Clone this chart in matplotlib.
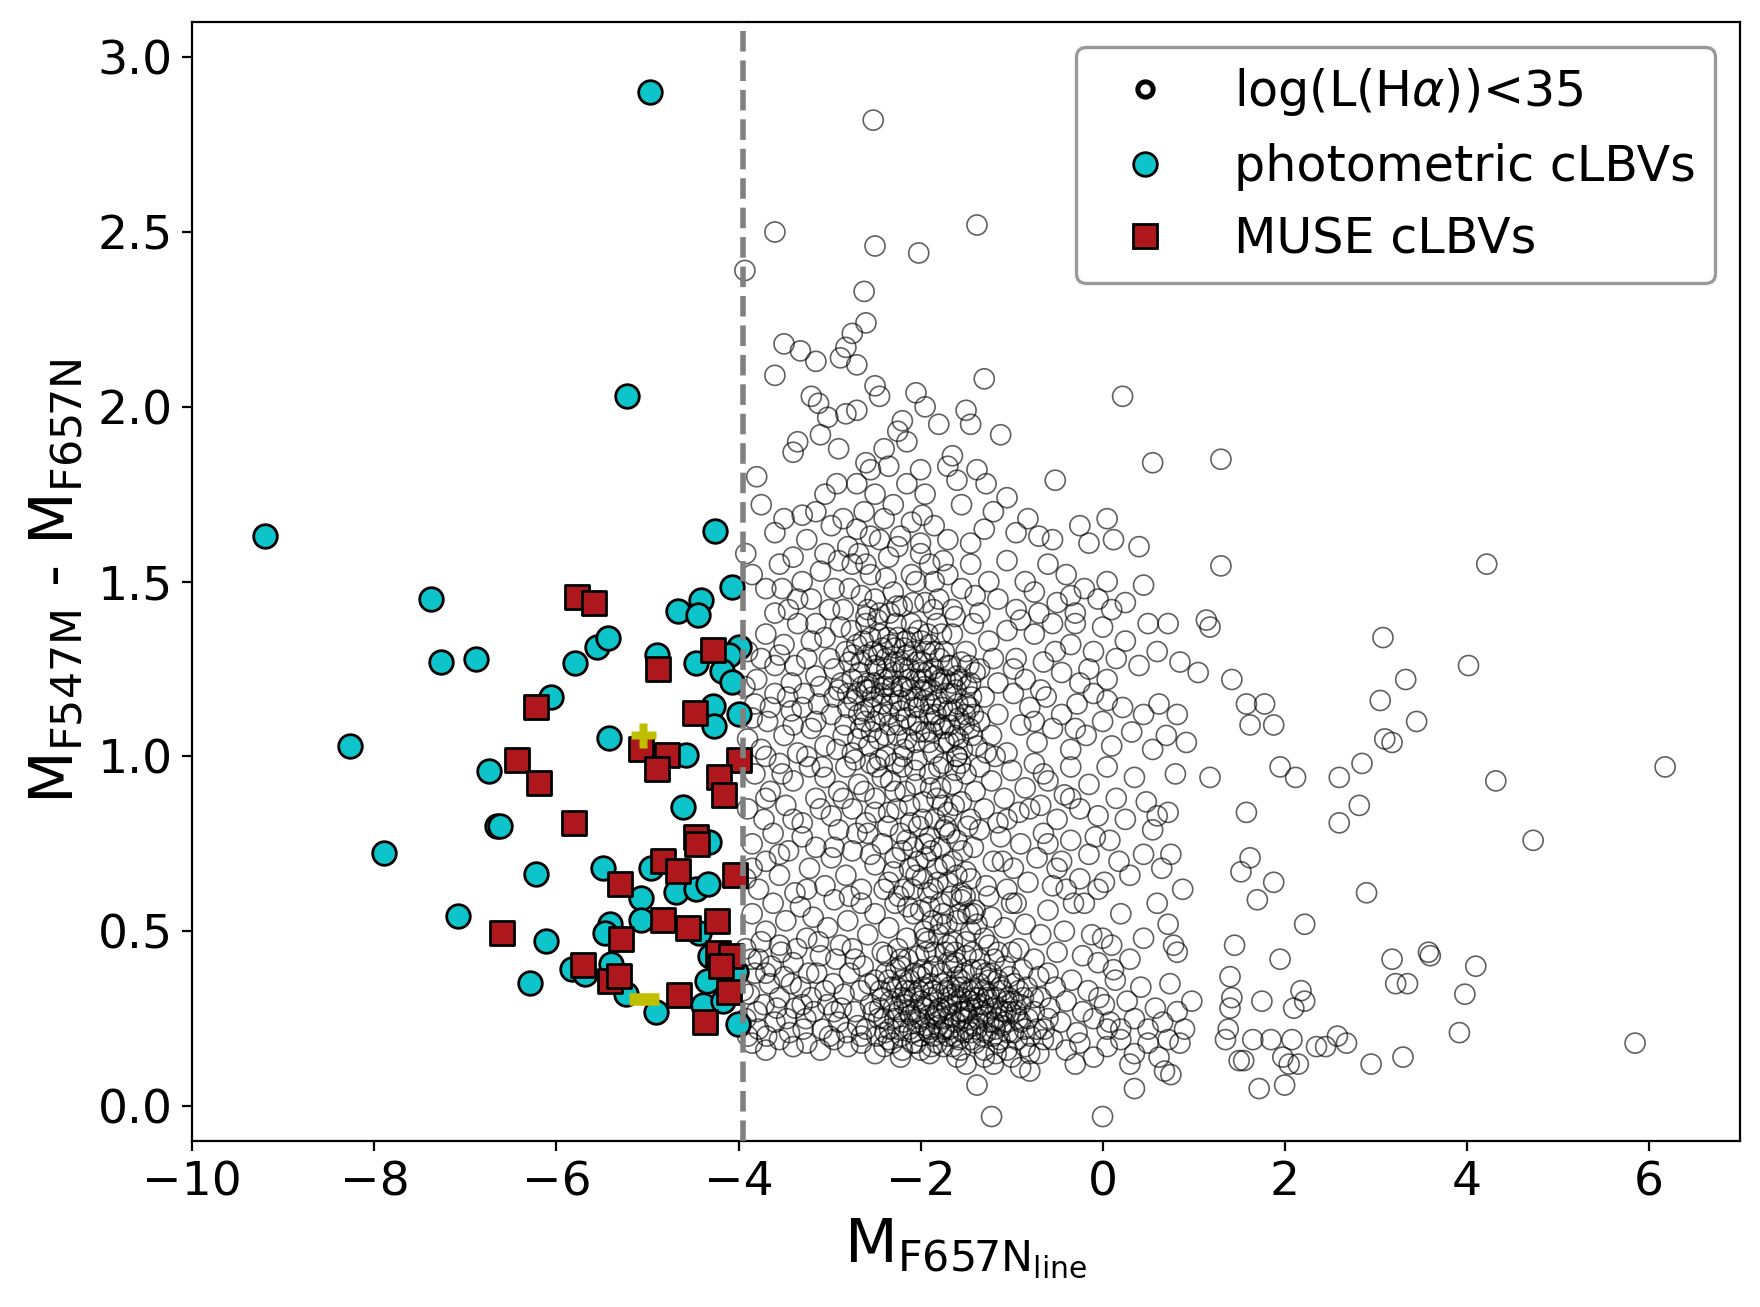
import matplotlib
matplotlib.use("Agg")
import matplotlib.pyplot as plt
from matplotlib.lines import Line2D
import numpy as np

# ---------------- data: faint sources, log(L(Halpha))<35 ----------------
bg_top = [(-2.52,2.82),(-3.6,2.5),(-2.5,2.46),(-2.02,2.44),(-1.38,2.52),(-3.93,2.39),(-2.62,2.33),
          (-2.6,2.24),(-2.75,2.21),(-2.82,2.17),(-3.5,2.18),(-3.32,2.16),(-2.88,2.14),(-2.7,2.12),(-3.15,2.13)]
bg_18 = [(-3.6,2.09),(-1.3,2.08),(-2.5,2.06),(-2.45,2.03),(-2.05,2.04),(-1.95,2.0),(-2.7,1.99),(-3.2,2.03),
         (-3.12,2.01),(-3.02,1.97),(-2.82,1.98),(-1.5,1.99),(-1.45,1.95),(-1.12,1.92),(0.22,2.03),(-1.8,1.95),
         (-2.25,1.93),(-2.15,1.9),(-2.4,1.88),(-3.4,1.87),(-3.35,1.9),(-3.1,1.92),(-2.6,1.84),(-2.55,1.82),
         (-2.35,1.83),(-2.0,1.82),(-1.7,1.83),(-1.65,1.86),(-1.38,1.82),(-1.28,1.78),(-0.52,1.79),(0.55,1.84),
         (-2.9,1.88),(-2.2,1.96),(-1.98,1.69)]
bg_16 = [(-3.8,1.80),(-3.05,1.75),(-2.92,1.78),(-2.7,1.78),(-2.5,1.75),(-2.3,1.72),(-2.15,1.78),(-1.95,1.75),
         (-1.55,1.72),(-1.2,1.70),(-0.7,1.63),(-0.55,1.62),(-0.25,1.66),(0.05,1.68),(-3.75,1.72),(-3.5,1.68),
         (-3.3,1.69),(-3.15,1.70),(-2.85,1.68),(-2.7,1.65),(-2.4,1.68),(-2.1,1.67),(-1.85,1.66),(-1.7,1.62),
         (-1.45,1.61),(-1.3,1.65),(-0.95,1.64),(-0.15,1.61),(0.12,1.62),(-2.55,1.63),(-2.0,1.61),(-3.6,1.64),
         (-1.05,1.74),(-1.6,1.79),(-2.22,1.63),(-0.82,1.68),(-3.92,1.58),(0.4,1.6)]
bg_14 = [(-3.85,1.52),(-3.7,1.48),(-3.55,1.55),(-3.45,1.42),(-3.3,1.5),(-3.2,1.45),(-3.05,1.58),(-2.95,1.48),
         (-2.85,1.42),(-2.75,1.55),(-2.65,1.46),(-2.55,1.52),(-2.45,1.41),(-2.35,1.57),(-2.3,1.47),(-2.2,1.43),
         (-2.1,1.52),(-2.0,1.58),(-1.95,1.44),(-1.85,1.5),(-1.75,1.56),(-1.65,1.42),(-1.55,1.48),(-1.45,1.55),
         (-1.35,1.41),(-1.25,1.5),(-1.15,1.45),(-1.05,1.56),(-0.95,1.42),(-0.85,1.5),(-0.75,1.47),(-0.6,1.55),
         (-0.5,1.44),(-0.4,1.52),(-0.3,1.41),(-0.2,1.48),(-0.05,1.45),(0.1,1.42),(0.25,1.44),(0.45,1.49),
         (-3.6,1.41),(-2.9,1.56),(-2.6,1.40),(-1.9,1.55),(-1.4,1.46),(-0.7,1.41),(-0.35,1.46),(0.05,1.50),
         (-3.4,1.57),(-3.25,1.62),(-3.1,1.53),(-2.98,1.66),(-2.8,1.6),(-2.62,1.7),(-2.45,1.62),(-2.38,1.51),
         (-2.6,1.55),(-2.78,1.48),(-3.0,1.42),(-3.15,1.38),(-2.25,1.6),(-2.05,1.5),(-1.8,1.45),(-1.7,1.52),
         (-2.5,1.45),(-2.68,1.58),(-3.35,1.45),(-3.52,1.48)]
bg_12 = [(-3.9,1.3),(-3.8,1.22),(-3.7,1.35),(-3.6,1.26),(-3.5,1.32),(-3.42,1.21),(-3.35,1.38),(-3.25,1.28),
         (-3.15,1.23),(-3.05,1.34),(-2.95,1.25),(-2.88,1.37),(-2.82,1.3),
         (-2.75,1.22),(-2.7,1.32),(-2.65,1.27),(-2.6,1.38),(-2.58,1.21),(-2.52,1.3),(-2.48,1.25),(-2.45,1.35),
         (-2.4,1.2),(-2.38,1.28),(-2.33,1.32),(-2.3,1.24),(-2.27,1.38),(-2.22,1.27),(-2.2,1.2),(-2.16,1.33),
         (-2.12,1.25),(-2.08,1.3),(-2.05,1.22),(-2.02,1.36),(-1.98,1.27),(-1.95,1.2),(-1.9,1.32),(-1.86,1.25),
         (-1.82,1.38),(-1.78,1.22),(-1.74,1.3),(-1.7,1.26),(-2.55,1.34),(-2.35,1.22),(-2.15,1.29),(-1.92,1.35),
         (-2.42,1.31),(-2.25,1.34),(-2.0,1.24),
         (-1.65,1.35),(-1.6,1.23),(-1.5,1.3),(-1.42,1.38),(-1.35,1.25),(-1.25,1.33),(-1.15,1.21),(-1.05,1.36),
         (-0.95,1.28),(-0.85,1.22),(-0.75,1.35),(-0.65,1.27),(-0.55,1.38),(-0.45,1.24),(-0.35,1.32),(-0.25,1.21),
         (-0.1,1.3),(0.0,1.37),(0.15,1.28),(0.25,1.33),(0.4,1.26),(0.5,1.38),(0.6,1.3),(0.72,1.38),(0.85,1.27),
         (-1.45,1.21),(-0.9,1.39),(0.05,1.22),(-0.3,1.38)]
bg_clump_hi = [(-2.87,1.21),(-2.83,1.09),(-2.78,1.27),(-2.73,1.16),(-2.69,1.05),(-2.67,1.24),(-2.63,1.33),
               (-2.61,1.1),(-2.56,1.19),(-2.54,1.07),(-2.5,1.26),(-2.47,1.39),(-2.44,1.12),(-2.41,1.22),
               (-2.39,1.06),(-2.36,1.34),(-2.32,1.15),(-2.29,1.27),(-2.26,1.43),(-2.24,1.09),(-2.21,1.2),
               (-2.18,1.31),(-2.15,1.05),(-2.13,1.22),(-2.1,1.38),(-2.07,1.14),(-2.04,1.27),(-2.01,1.07),
               (-1.99,1.33),(-1.96,1.16),(-1.93,1.24),(-1.91,1.04),(-1.88,1.19),(-1.85,1.3),(-1.83,1.12),
               (-1.8,1.21),(-1.77,1.35),(-1.75,1.08),(-1.72,1.18),(-1.69,1.04),(-1.67,1.26),(-1.64,1.13),
               (-1.61,1.19),(-1.58,1.05),(-1.55,1.27),(-1.52,1.09),(-1.49,1.2),(-1.46,1.14),(-1.43,1.06),
               (-1.4,1.24),(-2.76,1.36),(-2.58,1.42),(-2.34,1.41),(-2.08,1.44),(-1.86,1.42),(-1.62,1.4),
               (-2.72,0.99),(-2.48,0.97),(-2.28,0.98),(-2.04,0.99),(-1.8,0.97),(-1.56,0.98),(-2.95,1.17),
               (-3.0,1.28),(-3.1,1.2),(-3.2,1.33),(-3.3,1.14),(-3.38,1.26),(-3.46,1.17),(-3.55,1.29),
               (-3.65,1.14),(-3.75,1.28),(-3.85,1.11),(-3.93,1.2),
               (-2.8,1.18),(-2.74,1.29),(-2.68,1.12),(-2.64,1.2),(-2.59,1.29),(-2.55,1.14),(-2.51,1.21),
               (-2.46,1.29),(-2.43,1.18),(-2.37,1.25),(-2.34,1.09),(-2.31,1.2),(-2.28,1.31),(-2.23,1.16),
               (-2.19,1.25),(-2.16,1.11),(-2.11,1.19),(-2.09,1.34),(-2.05,1.17),(-2.03,1.1),(-1.97,1.22),
               (-1.94,1.3),(-1.89,1.15),(-1.87,1.07),(-1.84,1.23),(-1.79,1.28),(-1.76,1.14),(-1.73,1.22),
               (-1.68,1.09),(-1.65,1.21),(-1.59,1.15),(-1.56,1.22),(-1.51,1.12),(-1.47,1.26),(-1.44,1.17),
               (-3.15,1.1),(-3.25,1.0),(-3.4,1.09),(-3.52,0.95),(-3.7,1.0),(-3.08,0.97),(-2.92,1.02)]
bg_10 = [(-3.9,1.05),(-3.82,1.15),(-3.75,1.02),(-3.68,1.1),(-3.6,1.18),(-3.5,1.06),(-3.42,1.13),(-3.35,1.01),
         (-3.28,1.18),(-3.2,1.08),(-3.12,1.15),(-3.05,1.03),(-2.98,1.12),(-2.9,1.19),(-2.85,1.06),
         (-2.8,1.14),(-2.75,1.01),(-2.7,1.18),(-2.66,1.08),(-2.62,1.13),(-2.57,1.03),(-2.53,1.17),(-2.5,1.1),
         (-2.46,1.05),(-2.42,1.15),(-2.38,1.0),(-2.35,1.12),(-2.3,1.18),(-2.26,1.06),(-2.22,1.13),(-2.18,1.02),
         (-2.14,1.16),(-2.1,1.09),(-2.06,1.04),(-2.02,1.14),(-1.98,1.19),(-1.94,1.07),(-1.9,1.12),(-1.86,1.01),
         (-1.82,1.16),(-1.78,1.09),(-1.74,1.04),(-1.7,1.13),(-1.66,1.18),(-1.62,1.06),(-1.58,1.11),(-1.54,1.02),
         (-1.5,1.15),(-1.46,1.08),(-1.42,1.12),(-1.38,1.03),(-2.6,1.19),(-2.2,1.0),(-1.85,1.1),(-1.6,1.0),
         (-1.3,1.17),(-1.22,1.06),(-1.15,1.12),(-1.05,1.01),(-0.98,1.18),(-0.9,1.09),(-0.8,1.14),(-0.72,1.04),
         (-0.62,1.17),(-0.55,1.08),(-0.45,1.12),(-0.35,1.02),(-0.28,1.15),(-0.18,1.06),(-0.1,1.18),(0.0,1.1),
         (0.1,1.03),(0.22,1.14),(0.32,1.07),(0.45,1.12),(0.55,1.02),(0.62,1.15),(0.7,1.06),(0.82,1.12),
         (0.92,1.04),(-1.28,1.01),(-0.68,1.19),(0.05,1.16)]
bg_08 = [(-3.9,0.85),(-3.82,0.95),(-3.72,0.82),(-3.65,0.9),(-3.55,0.98),(-3.48,0.86),(-3.4,0.93),(-3.3,0.81),
         (-3.22,0.97),(-3.15,0.88),(-3.05,0.94),(-2.98,0.83),(-2.9,0.9),(-2.82,0.97),(-2.75,0.85),(-2.68,0.92),
         (-2.6,0.81),(-2.55,0.98),(-2.5,0.88),(-2.42,0.94),(-2.35,0.84),(-2.28,0.9),(-2.2,0.97),(-2.12,0.86),
         (-2.05,0.92),(-1.98,0.82),(-1.9,0.95),(-1.82,0.88),(-1.75,0.98),(-1.7,0.84),(-1.65,0.92),(-1.6,1.0),
         (-1.55,0.87),(-1.5,0.95),(-1.45,0.82),(-1.4,0.9),(-1.35,0.97),(-1.3,0.85),(-1.22,0.93),(-1.15,0.81),
         (-1.08,0.88),(-1.0,0.96),(-0.92,0.84),(-0.85,0.91),(-0.75,0.98),(-0.68,0.86),(-0.6,0.93),(-0.5,0.82),
         (-0.42,0.89),(-0.35,0.97),(-0.25,0.85),(-0.15,0.92),(-0.05,0.83),(0.05,0.97),(0.15,0.88),(0.25,0.82),
         (0.35,0.94),(0.48,0.87),(0.6,0.83),(0.72,0.84),(0.8,0.95),(-1.78,0.91),(-1.62,0.96),(-1.72,0.8),
         (-2.45,0.99)]
bg_06 = [(-3.92,0.65),(-3.85,0.75),(-3.78,0.62),(-3.7,0.7),(-3.62,0.78),(-3.55,0.66),(-3.45,0.73),(-3.38,0.61),
         (-3.3,0.77),(-3.22,0.68),(-3.15,0.74),(-3.05,0.63),(-2.98,0.71),(-2.9,0.79),(-2.82,0.66),(-2.75,0.73),
         (-2.65,0.62),(-2.58,0.78),(-2.5,0.69),(-2.42,0.75),(-2.35,0.64),(-2.28,0.71),(-2.22,0.78),(-2.18,0.62),
         (-2.12,0.68),(-2.08,0.74),(-2.02,0.8),(-1.98,0.65),(-1.94,0.71),(-1.9,0.77),(-1.86,0.62),(-1.82,0.68),
         (-1.78,0.74),(-1.74,0.79),(-1.7,0.64),(-1.65,0.7),(-1.6,0.76),(-1.55,0.61),(-1.5,0.67),(-1.42,0.74),
         (-1.35,0.79),(-1.28,0.63),(-1.2,0.7),(-1.12,0.77),(-1.05,0.62),(-0.98,0.68),(-0.9,0.75),(-0.82,0.64),
         (-0.72,0.71),(-0.65,0.78),(-0.55,0.63),(-0.45,0.7),(-0.35,0.76),(-0.25,0.65),(-0.15,0.72),(-0.05,0.62),
         (0.02,0.64),(0.08,0.76),(0.18,0.7),(0.3,0.66),(0.45,0.72),(0.55,0.79),(0.65,0.68),(0.75,0.72),
         (0.88,0.62),(-2.05,0.66),(-1.88,0.73),(-2.15,0.76)]
bg_diag = [(-2.4,0.62),(-2.36,0.8),(-2.33,0.93),(-2.3,0.67),(-2.26,0.85),(-2.24,0.6),(-2.2,0.73),(-2.17,0.9),
           (-2.14,0.57),(-2.11,0.81),(-2.09,0.62),(-2.06,0.96),(-2.03,0.7),(-2.0,0.56),(-1.97,0.87),
           (-1.95,0.75),(-1.92,0.61),(-1.89,0.91),(-1.87,0.53),(-1.84,0.82),(-1.81,0.64),(-1.78,0.58),
           (-1.76,0.86),(-1.73,0.69),(-1.71,0.52),(-1.68,0.78),(-1.66,0.6),(-1.63,0.86),(-1.6,0.66),
           (-1.57,0.55),(-1.54,0.73),(-1.51,0.6),(-1.48,0.8),(-1.45,0.65),(-1.42,0.55),(-2.5,0.84),
           (-2.55,0.72),(-2.62,0.9),(-2.7,0.78),(-2.78,0.6),(-2.85,0.88),(-2.95,0.74),(-3.1,0.85),
           (-3.25,0.62),(-3.4,0.82),(-3.55,0.72),(-3.7,0.88),(-3.85,0.68),
           (-1.25,0.6),(-1.1,0.7),(-0.95,0.58),(-0.8,0.85),(-0.65,0.95),(-0.5,0.68),(-0.35,0.88),(-0.2,0.58),
           (-0.08,0.77),(-1.18,1.0),(-0.98,1.25),(-0.75,1.1),(-0.52,1.3),(-0.3,1.08),(-0.15,1.25),(-1.05,0.82),
           (-0.6,0.75),(-0.4,0.62),(-1.35,1.1),(-1.2,1.28)]
bg_04 = [(-3.92,0.45),(-3.85,0.55),(-3.78,0.42),(-3.7,0.5),(-3.62,0.58),(-3.55,0.46),(-3.48,0.53),(-3.4,0.41),
         (-3.32,0.57),(-3.25,0.48),(-3.18,0.54),(-3.1,0.43),(-3.02,0.51),(-2.95,0.59),(-2.88,0.46),(-2.8,0.53),
         (-2.72,0.42),(-2.65,0.58),(-2.58,0.49),(-2.5,0.55),(-2.42,0.44),(-2.35,0.51),(-2.28,0.58),(-2.22,0.42),
         (-2.15,0.48),(-2.08,0.55),(-2.02,0.43),(-1.96,0.5),(-1.9,0.57),(-1.85,0.44),(-1.8,0.49),(-1.75,0.55),
         (-1.7,0.41),(-1.65,0.47),(-1.6,0.53),(-1.55,0.59),(-1.5,0.43),(-1.45,0.5),(-1.4,0.56),(-1.35,0.42),
         (-1.3,0.48),(-1.22,0.54),(-1.15,0.44),(-1.08,0.51),(-1.0,0.58),(-0.92,0.45),(-0.85,0.52),(-0.75,0.42),
         (-0.68,0.49),(-0.6,0.56),(-0.5,0.44),(-0.42,0.5),(-0.32,0.58),(-0.22,0.43),(-0.12,0.49),(-0.05,0.41),
         (0.0,0.48),(0.1,0.46),(0.2,0.55),(0.3,0.42),(0.45,0.48),(0.6,0.58),(0.72,0.52),(0.82,0.44),(0.78,0.46),
         (-1.62,0.44),(-1.78,0.52),(-1.48,0.55),(-1.92,0.47),(-1.38,0.52)]
bg_02 = [(-3.92,0.25),(-3.88,0.32),(-3.82,0.38),(-3.78,0.22),(-3.72,0.29),(-3.66,0.35),(-3.6,0.24),(-3.55,0.31),
         (-3.5,0.37),(-3.44,0.21),(-3.38,0.28),(-3.32,0.34),(-3.26,0.25),(-3.2,0.31),(-3.14,0.38),(-3.08,0.22),
         (-3.02,0.29),(-2.96,0.35),(-2.9,0.24),(-2.84,0.32),(-2.78,0.38),(-2.72,0.27),(-2.66,0.33),(-2.6,0.22),
         (-2.55,0.29),
         (-2.5,0.36),(-2.46,0.25),(-2.42,0.31),(-2.38,0.38),(-2.34,0.22),(-2.3,0.28),(-2.26,0.34),(-2.22,0.4),
         (-2.19,0.24),(-2.15,0.3),(-2.12,0.36),(-2.08,0.21),(-2.05,0.27),(-2.02,0.33),(-1.98,0.39),(-1.95,0.23),
         (-1.92,0.29),(-1.89,0.35),(-1.86,0.2),(-1.83,0.26),(-1.8,0.32),(-1.77,0.38),(-1.74,0.22),(-1.71,0.28),
         (-1.68,0.34),(-1.65,0.4),(-1.62,0.24),(-1.59,0.3),(-1.56,0.36),(-1.53,0.21),(-1.5,0.27),(-1.47,0.33),
         (-1.44,0.39),(-1.41,0.23),(-1.38,0.29),(-1.35,0.35),(-1.32,0.2),(-1.28,0.26),(-1.25,0.32),(-1.22,0.38),
         (-1.18,0.22),(-1.15,0.28),(-1.12,0.34),(-1.08,0.24),(-1.05,0.3),(-1.02,0.37),(-0.98,0.21),(-0.95,0.27),
         (-0.92,0.33),(-2.28,0.25),(-2.1,0.33),(-1.9,0.26),(-1.7,0.31),(-1.55,0.25),(-1.4,0.31),(-1.25,0.24),
         (-2.0,0.3),(-1.8,0.23),(-1.6,0.37),(-1.45,0.28),(-1.3,0.33),(-2.2,0.36),(-1.1,0.27),
         (-0.88,0.39),(-0.82,0.25),(-0.76,0.31),(-0.7,0.37),(-0.64,0.22),(-0.58,0.28),(-0.52,0.34),(-0.46,0.24),
         (-0.4,0.3),(-0.34,0.36),(-0.28,0.21),(-0.22,0.27),(-0.16,0.33),(-0.1,0.25),(-0.04,0.31),(0.02,0.29),
         (0.08,0.24),(0.14,0.36),(0.2,0.22),(0.27,0.3),(0.35,0.25),(0.42,0.34),(0.5,0.22),(0.58,0.28),
         (0.66,0.24),(0.74,0.35),(0.82,0.27),(0.9,0.22),(0.98,0.3),(0.12,0.39),(0.05,0.22),(-0.6,0.38)]
bg_clump_lo = [(-2.48,0.2),(-2.44,0.33),(-2.4,0.25),(-2.37,0.43),(-2.33,0.3),(-2.31,0.18),(-2.27,0.39),
               (-2.24,0.27),(-2.21,0.2),(-2.17,0.33),(-2.14,0.42),(-2.11,0.26),(-2.09,0.18),(-2.06,0.38),
               (-2.03,0.24),(-2.0,0.2),(-1.97,0.34),(-1.94,0.44),(-1.91,0.21),(-1.88,0.31),(-1.85,0.4),
               (-1.82,0.18),(-1.79,0.28),(-1.76,0.35),(-1.73,0.44),(-1.7,0.2),(-1.67,0.26),(-1.64,0.32),
               (-1.61,0.41),(-1.58,0.19),(-1.55,0.31),(-1.52,0.38),(-1.49,0.22),(-1.46,0.3),(-1.43,0.44),
               (-1.4,0.18),(-1.37,0.25),(-1.34,0.39),(-1.31,0.29),(-1.28,0.21),(-1.25,0.36),(-1.22,0.28),
               (-1.19,0.42),(-1.16,0.25),(-1.13,0.19),(-1.1,0.33),(-1.07,0.4),(-1.04,0.21),(-1.01,0.27),
               (-0.97,0.35),(-0.94,0.19),(-0.9,0.29),(-0.86,0.22),(-0.83,0.34),(-0.79,0.2),(-0.75,0.27),
               (-0.72,0.22),(-0.68,0.31),(-0.65,0.19),(-0.6,0.25),(-2.35,0.36),(-2.18,0.29),(-2.0,0.37),
               (-1.84,0.25),(-1.68,0.22),(-1.52,0.27),(-1.36,0.31),(-1.2,0.24),(-1.03,0.31),(-1.92,0.38),
               (-1.6,0.34),(-1.28,0.38),(-2.12,0.22),(-1.75,0.25),(-1.45,0.21),(-1.15,0.36),(-0.9,0.24),
               (-2.4,0.17),(-2.0,0.16),(-1.65,0.17),(-1.3,0.14),(-1.05,0.16),(-0.8,0.15),(-2.25,0.45),
               (-1.95,0.48),(-1.7,0.46),(-1.5,0.47),(-1.25,0.46),(-1.0,0.44),
               (-3.95,0.33),(-3.9,0.2),(-3.86,0.42),(-3.8,0.27),(-3.75,0.47),(-3.69,0.2),(-3.64,0.4),
               (-3.58,0.28),(-3.53,0.44),(-3.47,0.25),(-3.42,0.35),(-3.36,0.45),(-3.29,0.22),(-3.23,0.38),
               (-3.17,0.27),(-3.12,0.47),(-3.05,0.33),(-3.0,0.2),(-2.93,0.42),(-2.87,0.28),(-2.81,0.21),
               (-2.75,0.45),(-2.69,0.23),(-2.63,0.4),(-2.57,0.35),(-2.52,0.27),(-3.7,0.38),(-3.3,0.29),
               (-2.95,0.27),(-2.65,0.2),
               (-2.45,0.28),(-2.39,0.21),(-2.32,0.34),(-2.25,0.22),(-2.2,0.31),(-2.13,0.27),(-2.07,0.31),
               (-2.01,0.25),(-1.96,0.28),(-1.9,0.22),(-1.86,0.33),(-1.81,0.27),(-1.77,0.21),(-1.72,0.33),
               (-1.66,0.29),(-1.63,0.2),(-1.57,0.27),(-1.54,0.34),(-1.48,0.25),(-1.42,0.33),(-1.38,0.22),
               (-1.33,0.27),(-1.27,0.31),(-1.21,0.2),(-1.17,0.31),(-1.11,0.23),(-1.06,0.27),(-0.99,0.3),
               (-0.93,0.25),(-0.87,0.31),(-1.88,0.17),(-1.56,0.16),(-1.17,0.15),(-2.22,0.14)]
bg_01 = [(-3.85,0.18),(-3.7,0.16),(-3.55,0.19),(-3.4,0.17),(-3.25,0.18),(-3.1,0.16),(-2.95,0.19),(-2.8,0.17),
         (-2.65,0.18),(-2.5,0.15),(-2.35,0.19),(-2.2,0.16),(-2.05,0.18),(-1.9,0.15),(-1.75,0.17),(-1.6,0.14),
         (-1.45,0.19),(-1.3,0.16),(-1.15,0.18),(-1.0,0.14),(-0.85,0.17),(-0.7,0.15),(-0.55,0.19),(-0.4,0.16),
         (-0.25,0.18),(-0.1,0.14),(0.05,0.17),(0.2,0.19),(0.35,0.15),(0.5,0.18),(0.62,0.14),(0.72,0.19),
         (0.85,0.18),(-1.2,0.12),(-0.9,0.11),(-0.8,0.1),(0.68,0.1),(0.75,0.09),(-1.38,0.06),(-1.22,-0.03),
         (0.0,-0.03),(0.35,0.05),(-1.5,0.12),(-0.3,0.12),(0.3,0.12)]
bg_right = [(1.3,1.85),(1.3,1.545),(4.22,1.55),(6.18,0.97),(4.73,0.76),(5.85,0.18),(4.32,0.93),(4.02,1.26),
            (3.45,1.10),(3.33,1.22),(3.08,1.34),(3.05,1.16),(3.1,1.05),(3.18,1.04),(2.85,0.98),(2.6,0.94),
            (2.82,0.86),(2.6,0.81),(2.12,0.94),(1.95,0.97),(1.78,1.15),(1.58,1.15),(1.62,1.09),(1.88,1.09),
            (1.42,1.22),(1.05,1.24),(1.14,1.39),(1.18,1.37),(1.18,0.94),(1.58,0.84),(1.62,0.71),(1.52,0.67),
            (1.88,0.64),(1.7,0.59),(1.45,0.46),(1.4,0.37),(1.42,0.31),(1.4,0.28),(1.38,0.22),(1.35,0.19),
            (1.5,0.13),(1.55,0.13),(1.65,0.19),(1.75,0.3),(1.72,0.05),(1.85,0.19),(1.95,0.42),(2.0,0.06),
            (2.05,0.12),(2.08,0.19),(2.1,0.28),(2.15,0.12),(2.18,0.33),(2.22,0.3),(2.22,0.52),(2.35,0.17),
            (2.45,0.17),(2.58,0.2),(2.68,0.18),(2.9,0.61),(2.95,0.12),(3.18,0.42),(3.22,0.35),(3.35,0.35),
            (3.3,0.14),(3.58,0.44),(3.6,0.43),(3.92,0.21),(3.98,0.32),(4.1,0.4),(1.98,0.14)]

# ---------------- data: photometric cLBVs ----------------
phot_x = [-4.97,-5.23,-9.20,-4.26,-7.38,-7.27,-6.88,-8.27,-7.90,-6.74,-6.65,-6.62,-6.22,-7.08,-6.11,-6.29,
          -6.06,-5.80,-5.56,-5.43,-5.42,-4.89,-4.66,-4.41,-4.45,-4.07,-4.47,-3.99,-4.10,-4.18,-4.07,-4.28,
          -4.27,-3.99,-4.58,-4.61,-4.32,-5.49,-4.96,-5.07,-4.69,-4.47,-4.34,-5.41,-5.47,-5.07,-4.43,-5.83,
          -5.69,-5.40,-5.24,-4.91,-4.35,-4.39,-4.17,-4.01,-4.03,-4.31]
phot_y = [2.90,2.03,1.63,1.645,1.45,1.27,1.28,1.03,0.725,0.957,0.80,0.80,0.664,0.544,0.472,0.353,
          1.17,1.267,1.312,1.338,1.054,1.29,1.416,1.447,1.404,1.485,1.267,1.314,1.29,1.243,1.214,1.143,
          1.086,1.12,1.005,0.855,0.756,0.681,0.681,0.596,0.613,0.62,0.634,0.52,0.496,0.531,0.496,0.391,
          0.377,0.405,0.32,0.27,0.358,0.29,0.30,0.234,0.382,0.428]

# ---------------- data: MUSE cLBVs ----------------
muse_x = [-5.77,-5.59,-4.88,-4.28,-6.22,-4.48,-6.43,-6.19,-5.81,-5.07,-4.79,-4.89,-3.99,-4.21,-4.16,-4.47,
          -4.46,-4.83,-4.66,-5.30,-4.04,-6.60,-4.83,-4.56,-4.24,-5.29,-5.71,-5.41,-5.31,-4.65,-4.37,-4.10,
          -4.23,-4.08,-4.19]
muse_y = [1.455,1.44,1.25,1.305,1.14,1.125,0.99,0.925,0.81,1.02,1.005,0.965,0.99,0.94,0.89,0.77,
          0.75,0.70,0.672,0.634,0.661,0.494,0.531,0.508,0.529,0.477,0.404,0.358,0.373,0.318,0.239,0.325,
          0.439,0.429,0.401]

# ---------------- data: highlighted sources (yellow) ----------------
yel_x = [-5.05, -5.04]
yel_y = [1.06, 0.305]

dash_x = -3.95

bg = (bg_top + bg_18 + bg_16 + bg_14 + bg_12 + bg_clump_hi + bg_10 + bg_08 + bg_06 + bg_diag
      + bg_04 + bg_02 + bg_clump_lo + bg_01 + bg_right)
bg_x = [p[0] for p in bg]
bg_y = [p[1] for p in bg]

# ---------------- plot ----------------
fig = plt.figure(figsize=(8.8, 6.535), dpi=200)
ax = fig.add_axes([0.1093, 0.127, 0.8792, 0.856])

ax.scatter(bg_x, bg_y, s=52, facecolors='none', edgecolors=(0, 0, 0, 0.62), linewidths=0.6, zorder=2)
ax.scatter(phot_x, phot_y, s=72, c='#0cc4c9', edgecolors='black', linewidths=1.0, zorder=3)
ax.scatter(muse_x, muse_y, s=72, marker='s', c='#ae171b', edgecolors='black', linewidths=1.0, zorder=4)
ax.plot(yel_x[:1], yel_y[:1], marker='P', ls='', ms=9, color='#bfbf00', mec='none', zorder=5)
ax.plot(yel_x[1:], yel_y[1:], marker='_', ls='', ms=11, mew=4.5, color='#bfbf00', zorder=5)
ax.axvline(dash_x, color='gray', ls='--', lw=2.0, zorder=6)

ax.set_xlim(-10, 7)
ax.set_ylim(-0.1, 3.1)
ax.set_xticks([-10, -8, -6, -4, -2, 0, 2, 4, 6])
ax.set_yticks([0.0, 0.5, 1.0, 1.5, 2.0, 2.5, 3.0])
ax.tick_params(labelsize=17)

ax.set_xlabel(r'$\mathrm{M_{F657N_{line}}}$', fontsize=22)
ax.set_ylabel(r'$\mathrm{M_{F547M}}$ - $\mathrm{M_{F657N}}$', fontsize=22)

h1 = Line2D([], [], marker='o', ls='', mfc='none', mec='black', ms=5.5, mew=1.8)
h2 = Line2D([], [], marker='o', ls='', mfc='#0cc4c9', mec='black', ms=8.5, mew=1.0)
h3 = Line2D([], [], marker='s', ls='', mfc='#ae171b', mec='black', ms=8.5, mew=1.0)
leg = ax.legend([h1, h2, h3], [r'log(L(H$\alpha$))<35', 'photometric cLBVs', 'MUSE cLBVs'],
                loc='upper right', fontsize=17.7, framealpha=1.0, edgecolor='0.6')
leg.get_frame().set_linewidth(1.2)
leg.set_zorder(10)

fig.savefig('out.png', dpi=200)
